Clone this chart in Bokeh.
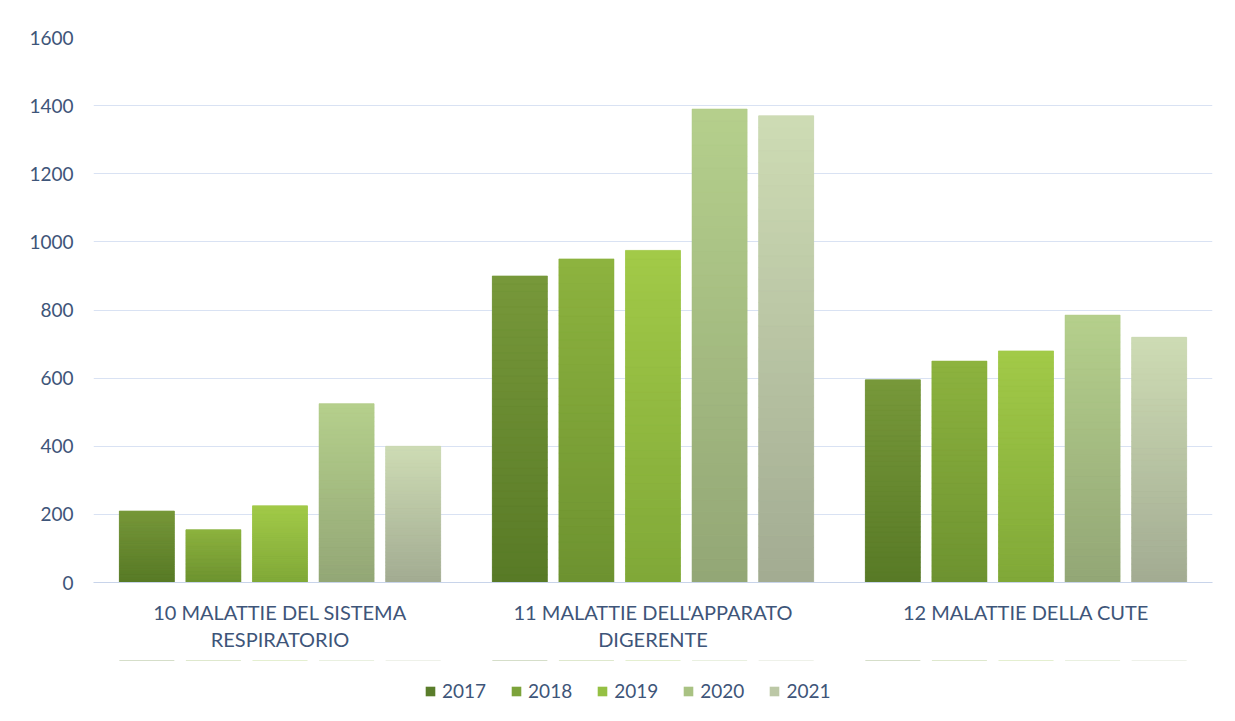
from bokeh.plotting import figure
from bokeh.layouts import column
from bokeh.models import FactorRange, Range1d, Legend, LegendItem, FixedTicker, ColumnDataSource
from bokeh.transform import dodge
from bokeh.embed import file_html
from bokeh.resources import INLINE

# ---- data ----
categories = [
    "10 MALATTIE DEL SISTEMA\nRESPIRATORIO",
    "11 MALATTIE DELL'APPARATO\nDIGERENTE",
    "12 MALATTIE DELLA CUTE",
]
years = ["2017", "2018", "2019", "2020", "2021"]
v2017 = [210, 900, 595]
v2018 = [155, 950, 650]
v2019 = [225, 975, 680]
v2020 = [525, 1390, 785]
v2021 = [400, 1370, 720]
y_ticks = [0, 200, 400, 600, 800, 1000, 1200, 1400, 1600]

series = [v2017, v2018, v2019, v2020, v2021]
legend_colors = ["#5a7d2b", "#7ca33a", "#95c043", "#a9c283", "#bcc8a6"]
top_colors = ["#77983a", "#8db33f", "#a2ca48", "#b5d08c", "#cedcb4"]
bottom_colors = ["#587a26", "#6d9230", "#80a838", "#93a676", "#a2ab92"]
offsets = [-0.357, -0.1785, 0.0, 0.1785, 0.357]
bar_w = 0.1475

TEXT = "#3e5579"
FONT = "Lato"
GRID = "#d9e2f3"

p = figure(
    x_range=FactorRange(*categories),
    y_range=Range1d(0, 1600),
    width=1233, height=660,
    output_backend="svg", toolbar_location=None,
    min_border_left=93, min_border_right=21, min_border_top=37, min_border_bottom=78,
)
p.outline_line_color = None
p.background_fill_color = "white"
p.border_fill_color = "white"

def hex2rgb(h):
    h = h.lstrip("#")
    return tuple(int(h[i:i + 2], 16) for i in (0, 2, 4))

def mix(c_bot, c_top, t):
    a, b = hex2rgb(c_bot), hex2rgb(c_top)
    return "#%02x%02x%02x" % tuple(int(round(a[k] + (b[k] - a[k]) * t)) for k in range(3))

# legend-only strip below the chart (its zero-height swatch bars lie outside its view)
lp = figure(
    x_range=FactorRange(*categories), y_range=Range1d(-2, -1),
    width=1233, height=58,
    x_axis_location=None, y_axis_location=None,
    output_backend="svg", toolbar_location=None,
    min_border_left=0, min_border_right=0, min_border_top=0, min_border_bottom=0,
)
lp.grid.visible = False
lp.outline_line_color = None
lp.background_fill_color = "white"
lp.border_fill_color = "white"

N = 40
legend_items = []
for yr, vals, off, lc, tc, bc in zip(years, series, offsets, legend_colors, top_colors, bottom_colors):
    base = ColumnDataSource(dict(x=categories, top=vals))
    p.vbar(x=dodge("x", off, range=p.x_range), top="top", bottom=0, width=bar_w,
           source=base, fill_color=lc, line_color=None)
    xs, bots, tops, cols = [], [], [], []
    for cat, v in zip(categories, vals):
        for i in range(N):
            xs.append(cat)
            bots.append(v * i / N)
            tops.append(v * (i + 1) / N)
            cols.append(mix(bc, tc, (i + 0.5) / N))
    src = ColumnDataSource(dict(x=xs, bottom=bots, top=tops, color=cols))
    p.vbar(x=dodge("x", off, range=p.x_range), top="top", bottom="bottom", width=bar_w,
           source=src, fill_color="color", line_color="color", line_width=0.6)
    lr = lp.vbar(x=dodge("x", off, range=lp.x_range), top="top", bottom="top", width=bar_w,
                 source=base, fill_color=lc, line_color=None)
    legend_items.append(LegendItem(label=yr, renderers=[lr]))

# grid & axes
p.xgrid.grid_line_color = None
p.ygrid.grid_line_color = GRID
p.ygrid.grid_line_width = 1.2

p.yaxis.ticker = FixedTicker(ticks=y_ticks)
p.yaxis.axis_line_color = None
p.yaxis.major_tick_line_color = None
p.yaxis.minor_tick_line_color = None
p.yaxis.major_tick_out = 0
p.yaxis.major_label_standoff = 20
p.yaxis.major_label_text_font = FONT
p.yaxis.major_label_text_font_size = "19px"
p.yaxis.major_label_text_color = TEXT

p.xaxis.axis_line_color = "#c8d4ea"
p.xaxis.axis_line_width = 1.2
p.xaxis.major_tick_line_color = None
p.xaxis.minor_tick_line_color = None
p.xaxis.major_tick_out = 0
p.xaxis.major_label_standoff = 17
p.xaxis.major_label_text_font = FONT
p.xaxis.major_label_text_font_size = "20px"
p.xaxis.major_label_text_color = TEXT
p.xaxis.major_label_text_line_height = 1.15

legend = Legend(
    items=legend_items, orientation="horizontal",
    location=(331, 16),
    glyph_width=12, glyph_height=12, label_standoff=6, spacing=24,
    label_text_font=FONT, label_text_font_size="19px", label_text_color=TEXT,
    border_line_color=None, background_fill_alpha=0, padding=5, margin=0,
)
lp.add_layout(legend, "center")

layout = column(p, lp, spacing=0)
open("out.html", "w").write(file_html(layout, INLINE))
